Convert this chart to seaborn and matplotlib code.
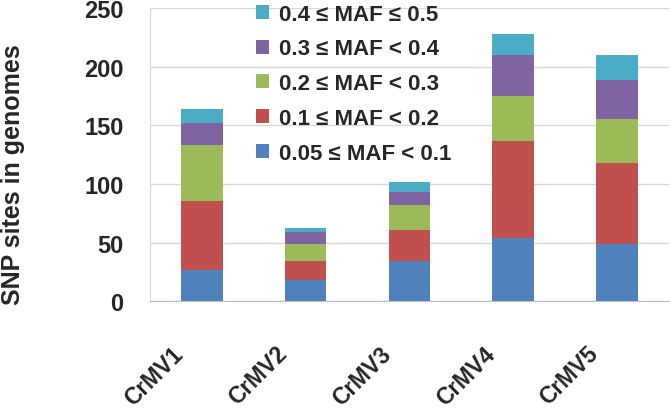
import pandas as pd
import matplotlib
matplotlib.use('Agg')
import matplotlib.pyplot as plt
import matplotlib.transforms as mtransforms
import seaborn as sns
import numpy as np

# values
genomes = ['CrMV1', 'CrMV2', 'CrMV3', 'CrMV4', 'CrMV5']
maf_005_01 = [27, 18, 34, 54, 49]
maf_01_02 = [58, 16, 27, 83, 69]
maf_02_03 = [48, 15, 21, 38, 37]
maf_03_04 = [19, 10, 11, 35, 34]
maf_04_05 = [12, 3, 9, 18, 21]

classes = ['0.05 ≤ MAF < 0.1', '0.1 ≤ MAF < 0.2', '0.2 ≤ MAF < 0.3',
           '0.3 ≤ MAF < 0.4', '0.4 ≤ MAF ≤ 0.5']
colors = ['#4F81BD', '#C0504D', '#9BBB59', '#8064A2', '#4BACC6']

df = pd.DataFrame({'genome': genomes,
                   classes[0]: maf_005_01,
                   classes[1]: maf_01_02,
                   classes[2]: maf_02_03,
                   classes[3]: maf_03_04,
                   classes[4]: maf_04_05})
cum = df[classes].cumsum(axis=1)
cum['genome'] = df['genome']

sns.set_style('white')
plt.rcParams['font.family'] = ['Liberation Sans', 'DejaVu Sans']
plt.rcParams['font.weight'] = 'bold'

fig = plt.figure(figsize=(6.7, 4.1), dpi=100)
ax = fig.add_axes([0.224, 0.263, 0.774, 0.715])

# stacked bars: draw running totals from the top class down
for cls, col in reversed(list(zip(classes, colors))):
    sns.barplot(data=cum, x='genome', y=cls, color=col, saturation=1,
                width=0.4, label=cls, ax=ax, linewidth=0)

ax.set_ylim(0, 250)
ax.set_xlim(-0.5, 4.5)
ax.set_yticks(range(0, 251, 50))
ax.yaxis.grid(True, color='#d9d9d9', linewidth=1)
ax.set_axisbelow(True)
for s in ['top', 'right']:
    ax.spines[s].set_visible(False)
ax.spines['left'].set_color('#d9d9d9')
ax.spines['bottom'].set_color('#bfbfbf')

ax.tick_params(axis='y', length=0, pad=19, labelsize=17)
ax.tick_params(axis='x', which='major', length=0, labelsize=16.5, pad=4)
ax.set_xticks(np.arange(-0.5, 5, 1), minor=True)
ax.tick_params(axis='x', which='minor', length=7, color='#bfbfbf', width=1)
offset = mtransforms.ScaledTranslation(-30 / 100, -35 / 100, fig.dpi_scale_trans)
for t in ax.get_xticklabels():
    t.set_rotation(45)
    t.set_ha('right')
    t.set_rotation_mode('anchor')
    t.set_transform(t.get_transform() + offset)
for t in ax.get_xticklabels() + ax.get_yticklabels():
    t.set_fontweight('bold')

ax.set_xlabel('')
ax.set_ylabel('SNP sites in genomes', fontsize=18, fontweight='bold')
ax.yaxis.set_label_coords(-0.242, 0.435)

ax.legend(loc='upper left', bbox_to_anchor=(0.204, 1.015), frameon=False,
          prop={'size': 16, 'weight': 'bold'}, handlelength=0.6, handleheight=0.6,
          handletextpad=0.45, labelspacing=0.62, borderaxespad=0, borderpad=0)

fig.savefig('out.png', dpi=100)
